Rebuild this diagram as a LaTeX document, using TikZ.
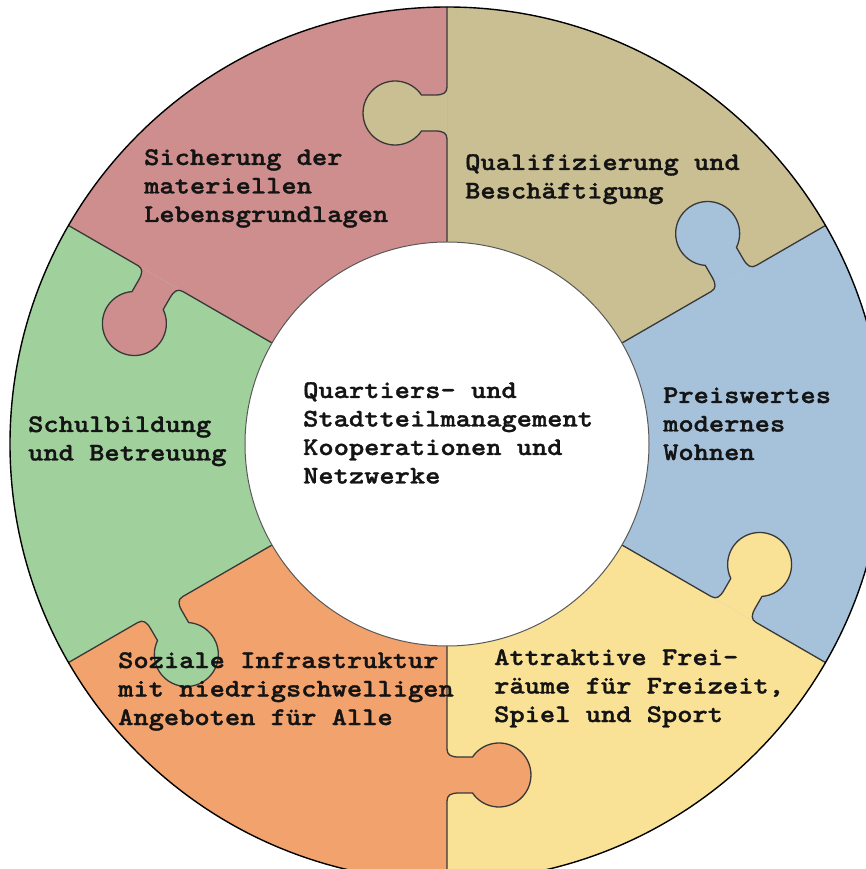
\documentclass[tikz,border=0pt]{standalone}
\usepackage{fontspec}
\newfontfamily\lblfont{lmmonolt10-bold}[Extension=.otf,FakeStretch=1.144,FakeBold=1.3]
\definecolor{cpink}{HTML}{CE8E8E}
\definecolor{ctan}{HTML}{C9BF92}
\definecolor{cblue}{HTML}{A6C2DB}
\definecolor{cyellow}{HTML}{F9E296}
\definecolor{corange}{HTML}{F2A26C}
\definecolor{cgreen}{HTML}{A0D19C}
\definecolor{ctext}{HTML}{141414}
\tikzset{
  divline/.style={draw=black!78, line width=1.3pt, line join=round},
  outerring/.style={draw=black, line width=1.4pt},
  innerdisc/.style={fill=white, draw=black!65, line width=1pt},
  lbl/.style={anchor=base west, inner sep=0pt, text=ctext,
    font=\lblfont\fontsize{25.4}{28.5}\selectfont},
}
\newcommand\wedgefill[3]{%
  \fill[#3] (0,0) -- (#1:437) arc[start angle=#1, end angle=#2, radius=437] -- cycle;}
\newcommand\knobcurve{(305,0) .. controls (311,0) and (313,4) .. (313,12) -- (313,25.5)
      arc[start angle=235.8, end angle=-55.8, radius=32] -- (349,12)
      .. controls (349,4) and (351,0) .. (357,0)}
\newcommand\knob[2]{%
  \begin{scope}[rotate=#1]
    \fill[#2] (305,0) .. controls (311,0) and (313,4) .. (313,12) -- (313,25.5)
      arc[start angle=235.8, end angle=-55.8, radius=32] -- (349,12)
      .. controls (349,4) and (351,0) .. (357,0) -- cycle;
    \draw[divline] (202,0) -- (305,0) .. controls (311,0) and (313,4) .. (313,12) -- (313,25.5)
      arc[start angle=235.8, end angle=-55.8, radius=32] -- (349,12)
      .. controls (349,4) and (351,0) .. (357,0) -- (437,0);
  \end{scope}}
\begin{document}
\begin{tikzpicture}[x=1pt,y=1pt]
\useasboundingbox (-447,-425) rectangle (419,444);
\clip (-447,-425) rectangle (419,444);
\fill[white] (-447,-425) rectangle (419,444);
\wedgefill{30}{90}{ctan}
\wedgefill{90}{150}{cpink}
\wedgefill{150}{210}{cgreen}
\wedgefill{210}{270}{corange}
\wedgefill{270}{330}{cyellow}
\wedgefill{330}{390}{cblue}
\knob{90}{ctan}
\knob{30}{cblue}
\knob{-30}{cyellow}
\knob{-90}{corange}
\knob{-150}{cgreen}
\knob{150}{cpink}
\draw[outerring] (0,0) circle[radius=437];
\draw[innerdisc] (0,0) circle[radius=202];
\node[lbl] (tpink) at (-303,279) {\begin{tabular}[t]{@{}l@{}}Sicherung der\\materiellen\\Lebensgrundlagen\end{tabular}};
\node[lbl] (ttan) at (18,274) {\begin{tabular}[t]{@{}l@{}}Qualifizierung und\\Beschäftigung\end{tabular}};
\node[lbl] (tcenter) at (-144,46) {\begin{tabular}[t]{@{}l@{}}Quartiers- und\\Stadtteilmanagement\\Kooperationen und\\Netzwerke\end{tabular}};
\node[lbl] (tblue) at (216,41) {\begin{tabular}[t]{@{}l@{}}Preiswertes\\modernes\\Wohnen\end{tabular}};
\node[lbl] (tgreen) at (-419,12) {\begin{tabular}[t]{@{}l@{}}Schulbildung\\und Betreuung\end{tabular}};
\node[lbl] (torange) at (-329,-224) {\begin{tabular}[t]{@{}l@{}}Soziale Infrastruktur\\mit niedrigschwelligen\\Angeboten für Alle\end{tabular}};
\node[lbl] (tyellow) at (47,-221) {\begin{tabular}[t]{@{}l@{}}Attraktive Frei-\\räume für Freizeit,\\Spiel und Sport\end{tabular}};
\end{tikzpicture}
\end{document}
